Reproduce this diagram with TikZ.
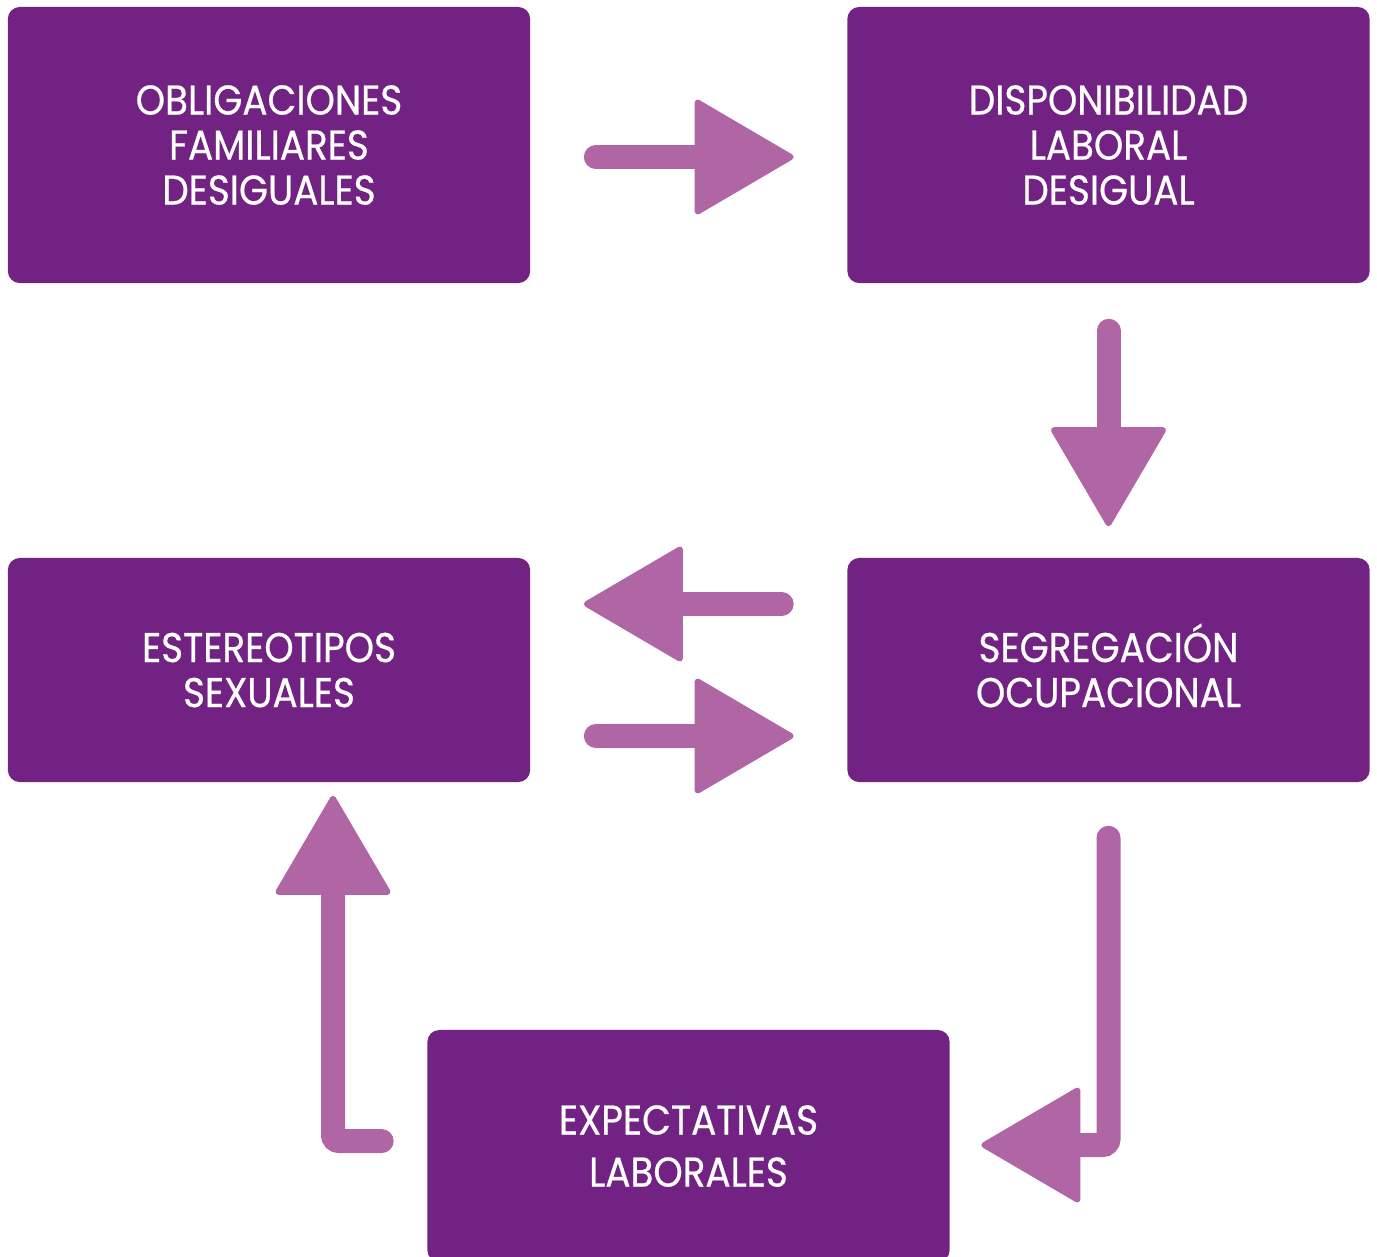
\documentclass[tikz,border=0pt]{standalone}
\usepackage{fontspec}
\setmainfont{Poppins}[FakeStretch=0.9, FakeBold=0.6]
\usetikzlibrary{positioning,calc,arrows.meta}

\definecolor{morado}{RGB}{114,34,130}
\definecolor{lila}{RGB}{176,101,165}

\tikzset{
  caja/.style={fill=morado, rounded corners=0.12cm, minimum width=5.22cm,
    text=white, align=center, inner sep=0pt, font=\fontsize{11.8}{12.8}\selectfont},
  flecha/.style={draw=lila, line width=0.24cm, line cap=round, rounded corners=0.06cm,
    -{Triangle[length=1.02cm, width=1.18cm, round, line width=0.06cm]}}
}

\begin{document}
\begin{tikzpicture}[x=0.01cm, y=-0.01cm]
	\useasboundingbox (0,0) rectangle (1377,1256);

	% Cajas
	\node[caja, minimum height=2.76cm] (obligaciones) at (269,145) {OBLIGACIONES\\FAMILIARES\\DESIGUALES};
	\node[caja, minimum height=2.76cm] (disponibilidad) at (1108.5,145) {DISPONIBILIDAD\\LABORAL\\DESIGUAL};
	\node[caja, minimum height=2.24cm] (estereotipos) at (269,670) {ESTEREOTIPOS\\SEXUALES};
	\node[caja, minimum height=2.24cm] (segregacion) at (1108.5,670) {SEGREGACI\smash{Ó}N\\OCUPACIONAL};
	\node[caja, minimum height=2.32cm, font=\fontsize{11.8}{14.8}\selectfont] (expectativas) at (688.5,1146) {EXPECTATIVAS\\LABORALES};

	% Flechas
	\draw[flecha] ($(obligaciones.east)+(65,12)$) -- ($(disponibilidad.west)+(-53,12)$);
	\draw[flecha] ($(disponibilidad.south)+(0,47)$) -- ($(segregacion.north)+(0,-31)$);
	\draw[flecha] ($(segregacion.west)+(-65,-66)$) -- ($(estereotipos.east)+(53,-66)$);
	\draw[flecha] ($(estereotipos.east)+(65,66)$) -- ($(segregacion.west)+(-53,66)$);
	\draw[flecha] ($(segregacion.south)+(0,55)$) |- ($(expectativas.east)+(31,-1)$);
	\draw[flecha] ($(expectativas.west)+(-45,-5)$) -| ($(estereotipos.south)+(64,13)$);
\end{tikzpicture}
\end{document}
